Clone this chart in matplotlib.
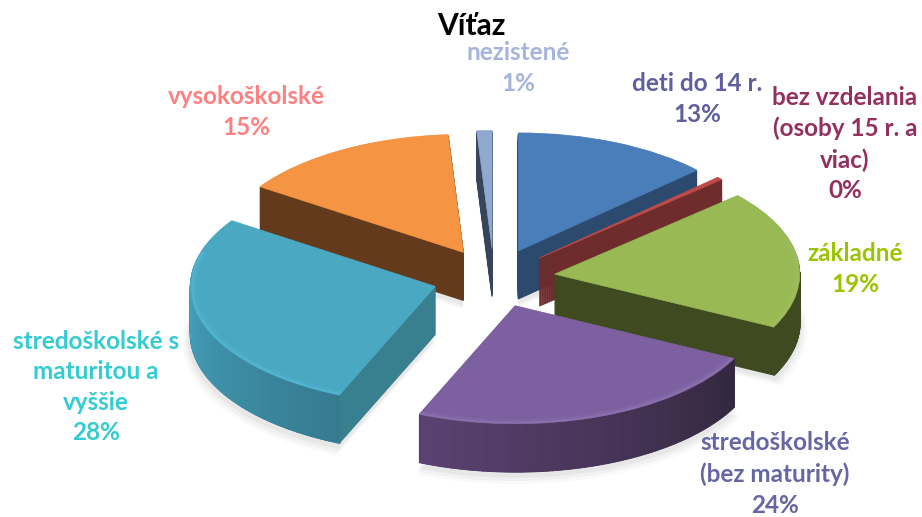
import matplotlib
matplotlib.use('Agg')
import matplotlib.pyplot as plt
from matplotlib.colors import to_rgb
import numpy as np

# chart data
categories = ['deti do 14 r.', 'bez vzdelania\n(osoby 15 r. a\nviac)', 'základné',
              'stredoškolské\n(bez maturity)', 'stredoškolské s\nmaturitou a\nvyššie',
              'vysokoškolské', 'nezistené']
values = [13.0, 0.4, 19.0, 24.0, 28.0, 14.6, 1.0]
percent_labels = ['13%', '0%', '19%', '24%', '28%', '15%', '1%']
title = 'Víťaz'

# colours
top_colors = ['#4a7ebb', '#be4b48', '#98b954', '#7d60a0', '#4aa8c3', '#f59443', '#92a9cf']
side_colors = ['#2c4a6e', '#6e2c2c', '#3f4a20', '#33283f', '#38808f', '#633a1b', '#36445c']
rim_start = ['#2c4a6e', '#6e2c2c', '#3f4a20', '#33283f', '#367a90', '#633a1b', '#36445c']
rim_end = ['#2c4a6e', '#6e2c2c', '#3f4a20', '#5c4272', '#44a0ba', '#633a1b', '#36445c']
bevel_colors = [None, '#d9605c', '#a9c46c', '#9d84bd', '#5cc4e0', None, None]
label_colors = ['#5f5f9f', '#943060', '#9bc400', '#6666a3', '#33ccd0', '#ff8080', '#a5b4da']

# drawing order, back slices first
order = [6, 5, 0, 1, 2, 4, 3]

# pie geometry in pixels
W, H = 922, 517
cx, cy = 494, 278
rx, ry = 245, 118
depth = 48
explode_frac = 0.25
explode = [explode_frac] * len(values)

# label centres in pixels
label_pos = [(697, 99), (845, 144), (855, 269), (775, 474), (96, 387), (246, 112), (518, 68)]

plt.rcParams['font.family'] = ['Lato', 'DejaVu Sans']

fig = plt.figure(figsize=(W / 100, H / 100), dpi=100)
ax = fig.add_axes([0, 0, 1, 1])


def draw_pie(colors, offset, z=None, radius=1.0, alpha=None, edge=0.0, layer=1):
    wedges, _ = ax.pie(values, explode=explode, colors=colors, startangle=90,
                       counterclock=False, center=(0, -offset / ry), radius=radius,
                       wedgeprops={'linewidth': 0})
    for i, w in enumerate(wedges):
        if alpha is not None:
            w.set_alpha(alpha)
        if edge > 0:
            # a thin edge keeps the very narrow slice from fading out
            w.set_edgecolor(w.get_facecolor())
            w.set_linewidth(edge)
        w.set_zorder(z if z is not None else order.index(i) * 10 + layer)
    return wedges


# soft shadow on the page
for extra, r, a in [(9, 1.03, 0.025), (7, 1.02, 0.03), (5, 1.01, 0.04)]:
    draw_pie(['#000000'] * len(values), depth + extra, z=0.5, radius=r, alpha=a)

# body of each slice: same pie stacked downwards
for d in np.arange(depth, 0, -1):
    draw_pie(side_colors, d, edge=0.8)

# angles measured clockwise from the top
edges = np.cumsum([0] + values) / sum(values) * 2 * np.pi

for i in range(len(values)):
    mid = (edges[i] + edges[i + 1]) / 2
    ex, ey = explode_frac * np.sin(mid), explode_frac * np.cos(mid)
    t = np.linspace(edges[i], edges[i + 1], 80)
    t = t[np.cos(t) < 0.02]
    z = order.index(i) * 10
    if len(t) > 1:
        # outer rim with a sideways gradient
        c0, c1 = np.array(to_rgb(rim_start[i])), np.array(to_rgb(rim_end[i]))
        for k in range(len(t) - 1):
            f = k / (len(t) - 2) if len(t) > 2 else 0
            x = ex + np.sin(t[k:k + 2])
            y = ey + np.cos(t[k:k + 2])
            col = c0 + (c1 - c0) * f
            ax.fill_between(x, y, y - depth / ry, color=col, linewidth=0.6, zorder=z + 2)

# top faces
draw_pie(top_colors, 0, edge=0.5, layer=5)

# highlight along the front edge of the top face
for i in range(len(values)):
    if bevel_colors[i] is None:
        continue
    mid = (edges[i] + edges[i + 1]) / 2
    ex, ey = explode_frac * np.sin(mid), explode_frac * np.cos(mid)
    t = np.linspace(edges[i], edges[i + 1], 120)
    t = t[np.cos(t) < 0.3]
    z = order.index(i) * 10 + 6
    for r, lw, a in [(0.985, 3.5, 0.16), (0.992, 1.5, 0.35)]:
        ax.plot(ex + r * np.sin(t), ey + r * np.cos(t), color=bevel_colors[i], lw=lw,
                alpha=a, zorder=z, solid_capstyle='butt')

ax.set_aspect('auto')
ax.set_xlim((0 - cx) / rx, (W - cx) / rx)
ax.set_ylim((cy - H) / ry, cy / ry)
ax.axis('off')

for name, pct, col, pos in zip(categories, percent_labels, label_colors, label_pos):
    fig.text(pos[0] / W, 1 - pos[1] / H, name + '\n' + pct, color=col, fontsize=17.5,
             fontweight='bold', ha='center', va='center', linespacing=1.4)

fig.text(471 / W, 1 - 26 / H, title, color='black', fontsize=21.5, fontweight='bold',
         ha='center', va='center')

fig.savefig('out.png', dpi=100)
